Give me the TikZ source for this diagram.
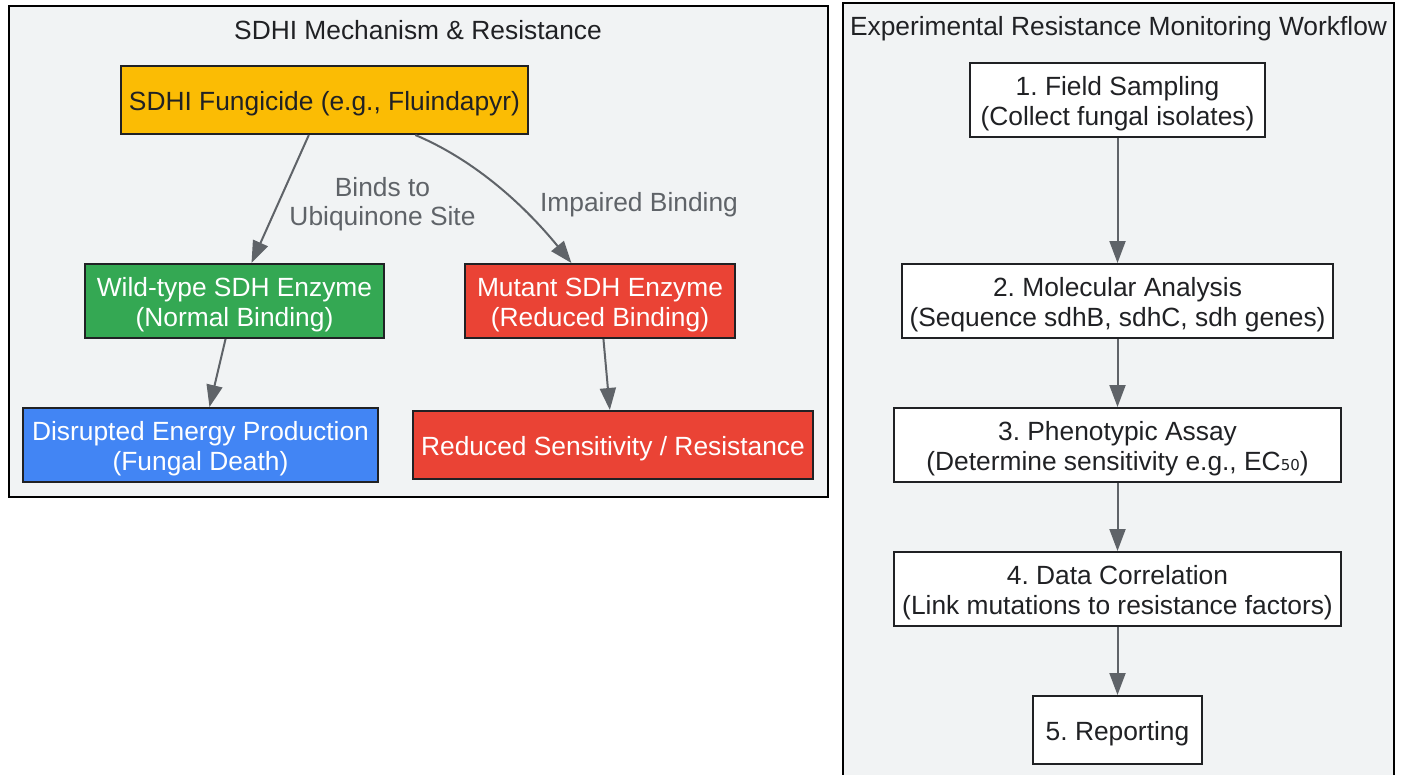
\documentclass[tikz,border=0pt]{standalone}
\usepackage{fontspec}
\setmainfont{Liberation Sans}
\newfontfamily\subfont{DejaVu Sans}
\usetikzlibrary{arrows.meta,calc}
\definecolor{clusterbg}{HTML}{F1F3F4}
\definecolor{ink}{HTML}{202124}
\definecolor{edgegray}{HTML}{5F6368}
\definecolor{sdhiyellow}{HTML}{FBBC04}
\definecolor{sdhigreen}{HTML}{34A853}
\definecolor{sdhired}{HTML}{EA4335}
\definecolor{sdhiblue}{HTML}{4285F4}
\tikzset{
  cluster/.style={draw=black,fill=clusterbg,line width=2pt,inner sep=0pt},
  flowbox/.style={draw=ink,line width=2pt,inner sep=0pt,text=ink,font=\fontsize{26.35}{30}\selectfont\frenchspacing},
  whitebox/.style={flowbox,fill=white},
  lighttext/.style={text=white},
  clustertitle/.style={text=ink,font=\fontsize{26.35}{30}\selectfont\frenchspacing,inner sep=0pt},
  edgelabel/.style={text=edgegray,align=center,font=\fontsize{26.35}{29}\selectfont\frenchspacing,inner sep=0pt},
  link/.style={draw=edgegray,line width=2pt,-{Triangle[length=22pt,width=16pt]}}
}
\newcommand{\boxat}[8][]{\node[#2,#1,minimum width=#5pt-#3pt,minimum height=#6pt-#4pt] (#7) at ({(#3+#5)/2},{(#4+#6)/2}) {\raisebox{-4pt}[\height][\depth]{\begin{tabular}{@{}c@{}}#8\end{tabular}}};}
\begin{document}
\begin{tikzpicture}[x=1pt,y=-1pt]
\useasboundingbox (0,0) rectangle (1404,774);
\node[cluster,minimum width=819pt,minimum height=491pt] (clusterA) at (418.5,251.5) {};
\node[cluster,minimum width=551pt,minimum height=797pt] (clusterB) at (1118.5,401.5) {};
\node[clustertitle] (titleA) at (418,30) {SDHI Mechanism \& Resistance};
\node[clustertitle] (titleB) at (1118.5,29) {Experimental Resistance Monitoring Workflow};
\boxat{flowbox,fill=sdhiyellow}{121}{66}{528}{134}{fung}{SDHI Fungicide (e.g., Fluindapyr)}
\boxat{flowbox,fill=sdhigreen,lighttext}{85}{264}{384}{338}{wild}{Wild-type SDH Enzyme\\(Normal Binding)}
\boxat{flowbox,fill=sdhired,lighttext}{465}{264}{735}{338}{mutant}{Mutant SDH Enzyme\\(Reduced Binding)}
\boxat{flowbox,fill=sdhiblue,lighttext}{23}{408}{378}{482}{death}{Disrupted Energy Production\\(Fungal Death)}
\boxat{flowbox,fill=sdhired,lighttext}{413}{411}{813}{479}{resist}{Reduced Sensitivity / Resistance}
\boxat{whitebox}{970}{63}{1265}{137}{s1}{1. Field Sampling\\(Collect fungal isolates)}
\boxat{whitebox}{902}{264}{1333}{338}{s2}{2. Molecular Analysis\\(Sequence sdhB, sdhC, sdh genes)}
\boxat{whitebox}{894}{408}{1341}{482}{s3}{3. Phenotypic Assay\\(Determine sensitivity e.g., EC{\subfont\fontsize{15}{15}\selectfont 50})}
\boxat{whitebox}{894}{552}{1341}{626}{s4}{4. Data Correlation\\(Link mutations to resistance factors)}
\boxat{whitebox}{1033}{696}{1202}{764}{s5}{5. Reporting}
\node[edgelabel] (lab1) at (382.5,204) {Binds to\\Ubiquinone Site};
\node[edgelabel] (lab2) at (639,205) {Impaired Binding};
\draw[link] (fung) -- (wild);
\draw[link] ($(fung.south west)!0.722!(fung.south east)$) .. controls (470,158) and (520,200) .. ($(mutant.north west)!0.395!(mutant.north east)$);
\draw[link] (wild) -- (death);
\draw[link] (mutant) -- (resist);
\draw[link] (s1) -- (s2);
\draw[link] (s2) -- (s3);
\draw[link] (s3) -- (s4);
\draw[link] (s4) -- (s5);
\end{tikzpicture}
\end{document}
